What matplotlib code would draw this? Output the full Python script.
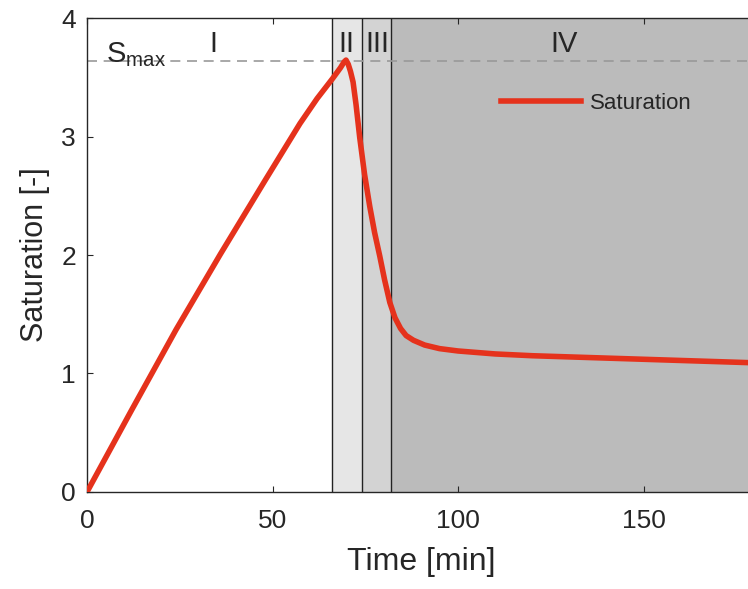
import matplotlib
matplotlib.use("Agg")
import matplotlib.pyplot as plt

plt.rcParams['font.family'] = ['Liberation Sans', 'DejaVu Sans']
plt.rcParams['mathtext.fontset'] = 'custom'
plt.rcParams['mathtext.rm'] = 'Liberation Sans'
plt.rcParams['mathtext.it'] = 'Liberation Sans'

# saturation curve
time = [0, 12, 24, 36, 48, 57.4, 62, 66.2, 68.3, 69.3, 69.8, 70.4, 71, 71.7, 72.5, 73.5,
        74.8, 76.2, 77.5, 78.9, 80.2, 81.6, 83, 84.5, 86, 88, 91, 95, 100, 110, 120,
        140, 160, 180]
sat = [0, 0.69, 1.37, 2.01, 2.63, 3.11, 3.32, 3.49, 3.58, 3.63, 3.645, 3.61, 3.55, 3.46, 3.27, 2.99,
       2.68, 2.41, 2.19, 1.99, 1.79, 1.6, 1.47, 1.38, 1.32, 1.28, 1.24, 1.21, 1.19, 1.165, 1.15,
       1.13, 1.11, 1.09]

s_max = 3.635
bounds = [0, 66, 74, 82, 180]
phase_labels = ["I", "II", "III", "IV"]
phase_x = [34, 70, 78.2, 128.5]
phase_colors = ["white", "#e6e6e6", "#d3d3d3", "#bbbbbb"]

fig = plt.figure(figsize=(7.48, 5.89), dpi=100)
ax = fig.add_axes([0.1163, 0.1647, 0.893, 0.8047])

for i in range(4):
    ax.axvspan(bounds[i], bounds[i + 1], color=phase_colors[i], zorder=0, lw=0)
    ax.text(phase_x[i], 3.78, phase_labels[i], ha='center', va='center',
            fontsize=21, color='#262626')
for b in bounds[1:4]:
    ax.axvline(b, color='#222222', lw=1.0, zorder=1)

ax.axhline(s_max, color='#999999', lw=1.2, ls=(0, (6, 4)), zorder=1)
ax.text(5, 3.69, r'S$_{\mathrm{max}}$', fontsize=21, color='#262626', va='center')

ax.plot(time, sat, color='#e5321c', lw=4, label='Saturation', zorder=3)

ax.set_xlim(0, 180)
ax.set_ylim(0, 4)
ax.set_xticks([0, 50, 100, 150])
ax.set_yticks([0, 1, 2, 3, 4])
ax.tick_params(direction='in', top=True, right=False, labelsize=19,
               colors='#262626', length=4)
ax.tick_params(axis='x', pad=12)
ax.tick_params(axis='y', pad=8)
for sp in ax.spines.values():
    sp.set_color('#262626')
    sp.set_linewidth(1.0)
ax.set_xlabel('Time [min]', fontsize=23, color='#262626', labelpad=10)
ax.set_ylabel('Saturation [-]', fontsize=22, color='#262626', labelpad=8)

leg = ax.legend(loc='upper left', bbox_to_anchor=(0.59, 0.885), frameon=False,
                fontsize=16, handlelength=3.6, handletextpad=0.4)
for t in leg.get_texts():
    t.set_color('#262626')

fig.savefig('out.png', dpi=100)
